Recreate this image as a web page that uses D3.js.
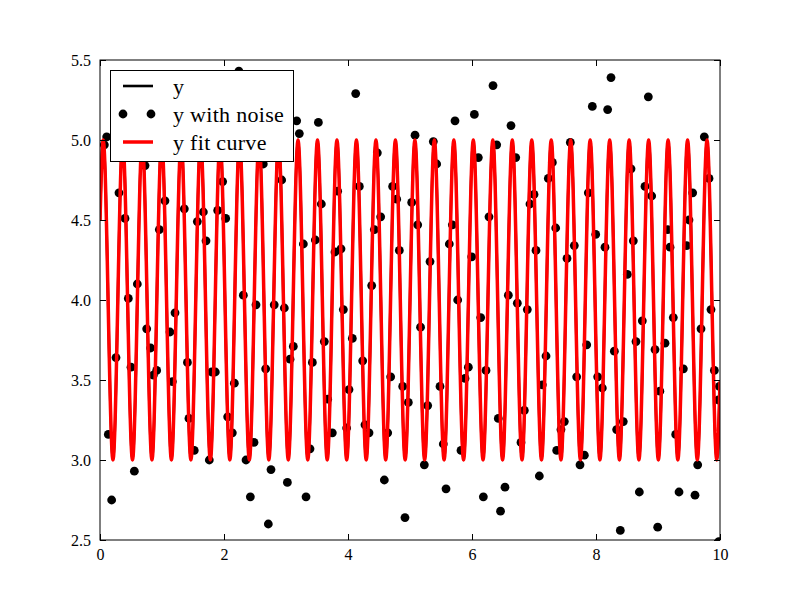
<!DOCTYPE html>
<html>
<head>
<meta charset="utf-8">
<script src="https://cdn.jsdelivr.net/npm/d3@7/dist/d3.min.js"></script>
<style>
  html, body { margin: 0; padding: 0; background: #ffffff; }
  svg { display: block; }
  text { font-family: "Liberation Serif", "DejaVu Serif", serif; fill: #000; }
</style>
</head>
<body>
<div id="chart"></div>
<script>
// ---------------- data ----------------
const xTicks = [0, 2, 4, 6, 8, 10];
const xTickLabels = ["0", "2", "4", "6", "8", "10"];
const yTicks = [2.5, 3.0, 3.5, 4.0, 4.5, 5.0, 5.5];
const yTickLabels = ["2.5", "3.0", "3.5", "4.0", "4.5", "5.0", "5.5"];

const seriesNames = ["y", "y with noise", "y fit curve"];

// knots of the (true) curve: start, successive peaks/troughs, end
const curveX = [0,
  0.052, 0.209, 0.366, 0.524, 0.681, 0.838, 0.995, 1.152, 1.309, 1.466,
  1.623, 1.780, 1.937, 2.094, 2.251, 2.409, 2.566, 2.723, 2.880, 3.037,
  3.194, 3.351, 3.508, 3.665, 3.822, 3.979, 4.136, 4.294, 4.451, 4.608,
  4.765, 4.922, 5.079, 5.236, 5.393, 5.550, 5.707, 5.864, 6.021, 6.178,
  6.336, 6.493, 6.650, 6.807, 6.964, 7.121, 7.278, 7.435, 7.592, 7.749,
  7.906, 8.063, 8.221, 8.378, 8.535, 8.692, 8.849, 9.006, 9.163, 9.320,
  9.477, 9.634, 9.791, 9.948,
  10];
const curveY = [4.5,
  5, 3, 5, 3, 5, 3, 5, 3, 5, 3,
  5, 3, 5, 3, 5, 3, 5, 3, 5, 3,
  5, 3, 5, 3, 5, 3, 5, 3, 5, 3,
  5, 3, 5, 3, 5, 3, 5, 3, 5, 3,
  5, 3, 5, 3, 5, 3, 5, 3, 5, 3,
  5, 3, 5, 3, 5, 3, 5, 3, 5, 3,
  5, 3, 5, 3,
  3.49];
// fitted curve knots (fit coincides with the true curve)
const fitX = curveX.slice();
const fitY = curveY.slice();

// noisy samples
const noiseX = [0.07, 0.108, 0.134, 0.188, 0.258, 0.306, 0.403, 0.457, 0.50, 0.554,
  0.602, 0.726, 0.753, 0.817, 0.86, 0.914, 0.957, 1.048, 1.129, 1.167,
  1.21, 1.36, 1.41, 1.435, 1.52, 1.57, 1.667, 1.71, 1.763, 1.80,
  1.86, 1.898, 1.978, 2.027, 2.059, 2.134, 2.167, 2.24, 2.312, 2.355,
  2.425, 2.484, 2.516, 2.634, 2.672, 2.715, 2.758, 2.81, 2.93, 2.973,
  3.022, 3.065, 3.118, 3.172, 3.215, 3.28, 3.323, 3.387, 3.425, 3.473,
  3.522, 3.57, 3.618, 3.672, 3.747, 3.79, 3.833, 3.887, 3.925, 3.978,
  4.016, 4.07, 4.124, 4.183, 4.237, 4.274, 4.339, 4.382, 4.425, 4.473,
  4.527, 4.586, 4.64, 4.688, 4.72, 4.785, 4.828, 4.882, 4.919, 4.973,
  5.027, 5.081, 5.124, 5.17, 5.231, 5.285, 5.323, 5.376, 5.43, 5.484,
  5.537, 5.581, 5.634, 5.683, 5.726, 5.769, 5.823, 5.887, 5.941, 5.995,
  6.038, 6.102, 6.14, 6.183, 6.226, 6.274, 6.339, 6.398, 6.424, 6.46,
  6.532, 6.586, 6.629, 6.705, 6.731, 6.79, 6.844, 6.892, 6.935, 7.0,
  7.032, 7.086, 7.134, 7.194, 7.231, 7.296, 7.35, 7.366, 7.435, 7.489,
  7.532, 7.586, 7.65, 7.688, 7.742, 7.812, 7.85, 7.876, 7.941, 7.995,
  8.027, 8.102, 8.145, 8.188, 8.242, 8.296, 8.333, 8.392, 8.44, 8.505,
  8.565, 8.602, 8.645, 8.699, 8.747, 8.79, 8.844, 8.898, 8.952, 8.995,
  9.03, 9.113, 9.156, 9.194, 9.247, 9.285, 9.339, 9.409, 9.462, 9.50,
  9.559, 9.597, 9.64, 9.694, 9.747, 9.823, 9.855, 9.909, 9.973, 9.99,
  9.98];
const noiseY = [4.97, 5.02, 3.16, 2.75, 3.64, 4.67, 4.51, 4.01, 3.58, 2.93,
  4.10, 4.84, 3.82, 3.70, 3.53, 3.56, 4.44, 4.62, 3.80, 3.49,
  3.92, 4.57, 3.61, 3.26, 3.06, 4.49, 4.55, 4.37, 3.00, 3.55,
  3.55, 4.56, 4.74, 4.51, 3.27, 3.17, 3.48, 5.43, 4.03, 3.00,
  2.77, 3.11, 3.97, 4.85, 3.57, 2.60, 2.94, 3.97, 4.75, 3.95,
  2.86, 3.63, 3.71, 5.12, 5.04, 4.35, 2.77, 3.07, 3.61, 4.375,
  5.11, 4.60, 3.74, 3.38, 3.17, 4.30, 4.68, 4.32, 3.94, 3.20,
  3.44, 3.76, 5.29, 4.71, 3.62, 3.22, 3.17, 4.09, 4.44, 4.92,
  4.52, 2.875, 3.17, 3.52, 4.71, 4.63, 4.31, 3.46, 2.64, 3.36,
  4.61, 5.03, 4.47, 3.83, 2.97, 3.34, 4.24, 4.99, 4.85, 3.46,
  3.10, 2.82, 4.35, 4.47, 5.12, 4.00, 3.06, 3.51, 3.58, 4.27,
  5.16, 4.89, 3.89, 2.77, 3.56, 4.52, 5.34, 4.97, 3.26, 2.68,
  2.83, 4.03, 5.09, 4.89, 3.98, 3.11, 3.31, 3.94, 4.60, 4.66,
  4.31, 2.90, 3.47, 3.65, 4.76, 4.86, 4.45, 3.06, 3.19, 3.24,
  4.26, 4.985, 4.34, 3.52, 2.97, 3.03, 3.72, 4.67, 5.21, 4.41,
  3.52, 3.45, 4.33, 5.19, 5.39, 3.68, 3.19, 2.56, 3.24, 4.16,
  4.82, 4.37, 3.74, 2.80, 3.87, 4.71, 5.27, 4.65, 3.69, 2.58,
  3.43, 3.73, 4.44, 4.33, 3.89, 3.16, 2.80, 3.57, 4.34, 4.50,
  4.67, 2.78, 2.97, 3.82, 5.02, 4.76, 3.94, 3.56, 3.375, 3.46,
  2.49];

// ---------------- layout ----------------
const W = 800, H = 600;
const L = 100, R = 720, T = 60, B = 540;

const svg = d3.select("#chart").append("svg")
  .attr("width", W).attr("height", H)
  .style("background", "#ffffff");

const x = d3.scaleLinear().domain([0, 10]).range([L, R]);
const y = d3.scaleLinear().domain([2.5, 5.5]).range([B, T]);

svg.append("defs").append("clipPath").attr("id", "plotclip")
  .append("rect").attr("x", L).attr("y", T).attr("width", R - L).attr("height", B - T);

const plot = svg.append("g").attr("clip-path", "url(#plotclip)");

const curvePts = curveX.map((v, i) => [v, curveY[i]]);
const fitPts = fitX.map((v, i) => [v, fitY[i]]);
const lineGen = d3.line().x(d => x(d[0])).y(d => y(d[1])).curve(d3.curveMonotoneX);

// y (black line)
plot.append("path").attr("d", lineGen(curvePts))
  .attr("fill", "none").attr("stroke", "#000").attr("stroke-width", 2.6)
  .attr("stroke-linejoin", "round");

// y with noise (dots)
plot.append("g").selectAll("circle")
  .data(noiseX.map((v, i) => [v, noiseY[i]]))
  .join("circle")
  .attr("cx", d => x(d[0])).attr("cy", d => y(d[1]))
  .attr("r", 4.4).attr("fill", "#000");

// y fit curve (red, drawn last)
plot.append("path").attr("d", lineGen(fitPts))
  .attr("fill", "none").attr("stroke", "#ff0000").attr("stroke-width", 3.5)
  .attr("stroke-linejoin", "round");

// ---------------- axes ----------------
const tickLen = 6;
const fs = 16;

const axB = d3.axisBottom(x).tickValues(xTicks).tickSize(-tickLen)
  .tickFormat((d, i) => xTickLabels[i]).tickPadding(9);
const axT = d3.axisTop(x).tickValues(xTicks).tickSize(-tickLen).tickFormat("");
const axLft = d3.axisLeft(y).tickValues(yTicks).tickSize(-tickLen)
  .tickFormat((d, i) => yTickLabels[i]).tickPadding(9);
const axRgt = d3.axisRight(y).tickValues(yTicks).tickSize(-tickLen).tickFormat("");

function styleAxis(g) {
  g.select(".domain").remove();
  g.selectAll(".tick line").attr("stroke", "#000").attr("stroke-width", 1);
  g.selectAll(".tick text").style("font-family", '"Liberation Serif", "DejaVu Serif", serif')
    .style("font-size", fs + "px").attr("fill", "#000");
}

svg.append("g").attr("transform", `translate(0,${B})`).call(axB).call(styleAxis)
  .selectAll(".tick text").attr("dy", "0.71em");
svg.append("g").attr("transform", `translate(0,${T})`).call(axT).call(styleAxis);
svg.append("g").attr("transform", `translate(${L},0)`).call(axLft).call(styleAxis);
svg.append("g").attr("transform", `translate(${R},0)`).call(axRgt).call(styleAxis);

// frame
svg.append("rect").attr("x", L).attr("y", T).attr("width", R - L).attr("height", B - T)
  .attr("fill", "none").attr("stroke", "#000").attr("stroke-width", 1);

// ---------------- legend ----------------
const lg = svg.append("g");
lg.append("rect").attr("x", 110.5).attr("y", 70.5).attr("width", 183).attr("height", 91)
  .attr("fill", "#fff").attr("stroke", "#000").attr("stroke-width", 1);
const rowY = [86, 114, 142];
// y
lg.append("line").attr("x1", 123).attr("x2", 153).attr("y1", rowY[0]).attr("y2", rowY[0])
  .attr("stroke", "#000").attr("stroke-width", 2.6);
// y with noise
lg.selectAll("circle.leg").data([123, 151]).join("circle").attr("class", "leg")
  .attr("cx", d => d).attr("cy", rowY[1]).attr("r", 4.4).attr("fill", "#000");
// y fit curve
lg.append("line").attr("x1", 123).attr("x2", 153).attr("y1", rowY[2]).attr("y2", rowY[2])
  .attr("stroke", "#ff0000").attr("stroke-width", 3.5);

lg.selectAll("text").data(seriesNames).join("text")
  .attr("x", 173).attr("y", (d, i) => rowY[i] + 8)
  .style("font-size", "22px")
  .style("letter-spacing", "0.3px")
  .text(d => d);
</script>
</body>
</html>
